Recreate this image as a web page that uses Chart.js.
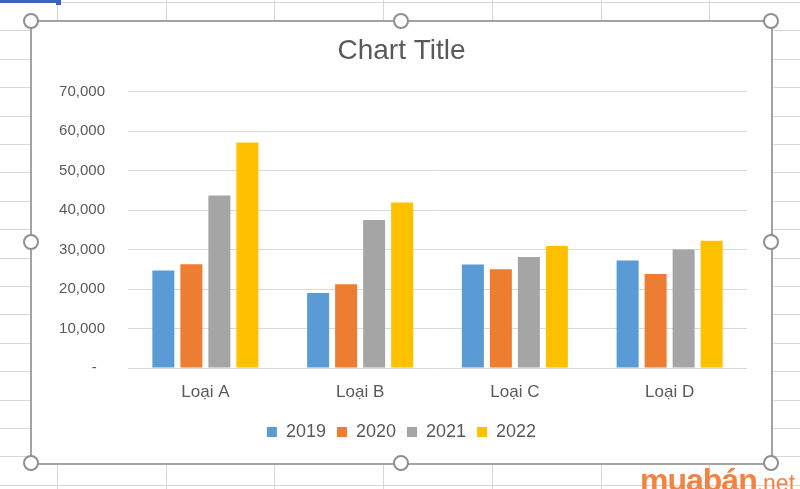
<!DOCTYPE html>
<html>
<head>
<meta charset="utf-8">
<script src="https://cdn.jsdelivr.net/npm/chart.js@4"></script>
<style>
  html, body { margin: 0; padding: 0; }
  body {
    width: 800px; height: 489px; overflow: hidden; position: relative;
    background-color: #fff;
    background-image:
      repeating-linear-gradient(to right, transparent 0, transparent 57px, #d6d6d6 57px, #d6d6d6 58px, transparent 58px, transparent 108.7px),
      repeating-linear-gradient(to bottom, transparent 0, transparent 2px, #d6d6d6 2px, #d6d6d6 3px, transparent 3px, transparent 28.4px);
    font-family: "Liberation Sans", Arial, sans-serif;
  }
  #sel { position: absolute; left: 0; top: 0; width: 58px; height: 3px; background: #3a66b8; }
  #selDot { position: absolute; left: 56px; top: 0; width: 5px; height: 5px; background: #3a66b8; }
  #box {
    position: absolute; left: 30px; top: 20px; width: 739px; height: 441px;
    background: #fff; border: 2px solid #a3a3a3;
  }
  .h {
    position: absolute; width: 12px; height: 12px; border-radius: 50%;
    border: 2.5px solid #8f8f8f; background: #fff; margin: -8.5px 0 0 -8.5px;
  }
  #mark {
    position: absolute; left: 640px; top: 462px; color: #f48240;
    font: 900 32px "Liberation Sans", Arial, sans-serif; letter-spacing: -1px; white-space: nowrap;
  }
  #mark span { font-weight: 400; font-size: 23px; letter-spacing: 0; }
</style>
</head>
<body>
<div id="sel"></div><div id="selDot"></div>
<div id="box"><canvas id="myChart"></canvas></div>
<div class="h" style="left:31px;top:21px"></div>
<div class="h" style="left:401px;top:21px"></div>
<div class="h" style="left:771px;top:21px"></div>
<div class="h" style="left:31px;top:242px"></div>
<div class="h" style="left:771px;top:242px"></div>
<div class="h" style="left:31px;top:463px"></div>
<div class="h" style="left:401px;top:463px"></div>
<div class="h" style="left:771px;top:463px"></div>
<div id="mark">muabán<span>.net</span></div>
<script>
const categories = ['Loại A', 'Loại B', 'Loại C', 'Loại D']
const years = ['2019', '2020', '2021', '2022']
const v2019 = [24700, 19000, 26200, 27200]
const v2020 = [26300, 21200, 25000, 23800]
const v2021 = [43700, 37500, 28100, 30000]
const v2022 = [57100, 41900, 30900, 32200]
const colors = ['#5b9bd5', '#ed7d31', '#a5a5a5', '#ffc000']

const textColor = '#595959'
const font = '"Liberation Sans", Arial, sans-serif'

const ctx = document.getElementById('myChart')
const myChart = new Chart(ctx, {
  type: 'bar',
  data: {
    labels: categories,
    datasets: [v2019, v2020, v2021, v2022].map((vals, i) => ({
      label: years[i],
      data: vals,
      backgroundColor: colors[i],
      categoryPercentage: 0.724,
      barPercentage: 0.786
    }))
  },
  options: {
    responsive: true,
    maintainAspectRatio: false,
    animation: false,
    layout: { padding: { left: 24, right: 24, top: 0, bottom: 12 } },
    plugins: {
      title: {
        display: true,
        text: 'Chart Title',
        color: textColor,
        font: { family: font, size: 28, weight: 'normal' },
        padding: { top: 12, bottom: 24 }
      },
      legend: {
        position: 'bottom',
        labels: {
          color: textColor,
          font: { family: font, size: 18 },
          boxWidth: 10,
          boxHeight: 10,
          padding: 11
        }
      },
      tooltip: { enabled: false }
    },
    scales: {
      x: {
        grid: { display: false },
        border: { display: false },
        ticks: { color: textColor, font: { family: font, size: 17 }, padding: 6 },
        afterFit: s => { s.height = 44 }
      },
      y: {
        min: 0,
        max: 70000,
        grid: { color: '#d9d9d9', drawTicks: false },
        border: { display: false },
        ticks: {
          stepSize: 10000,
          color: textColor,
          font: { family: font, size: 15 },
          padding: 23,
          callback: v => v === 0 ? '-  ' : v.toLocaleString('en-US')
        },
        afterFit: s => { s.width = 72 }
      }
    }
  }
})
</script>
</body>
</html>
